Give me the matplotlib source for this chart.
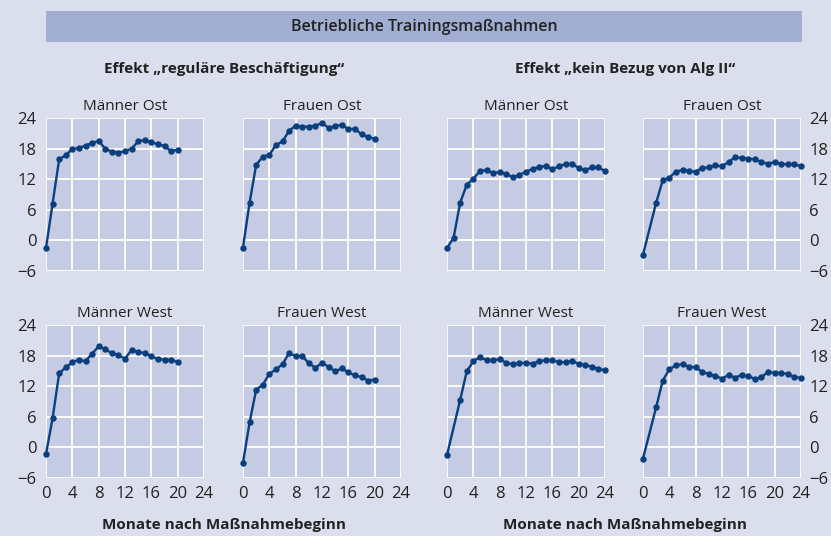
import matplotlib.pyplot as plt
from matplotlib.patches import Rectangle

plt.rcParams['font.family'] = ['Open Sans', 'DejaVu Sans']

# Monate nach Maßnahmebeginn
monate_20 = list(range(0, 21))
monate_24 = list(range(0, 25))
monate_24_ohne1 = [0] + list(range(2, 25))

# Effekt "reguläre Beschäftigung"
reg_maenner_ost = [-1.5, 7.2, 15.9, 16.7, 17.9, 18.1, 18.6, 19.1, 19.5, 18.0, 17.4,
                   17.2, 17.5, 18.0, 19.4, 19.7, 19.2, 18.9, 18.5, 17.5, 17.8]
reg_frauen_ost = [-1.4, 7.4, 14.8, 16.4, 16.8, 18.7, 19.4, 21.5, 22.5, 22.3, 22.3,
                  22.5, 23.0, 22.1, 22.4, 22.7, 21.8, 21.9, 20.8, 20.3, 19.9]
reg_maenner_west = [-1.3, 5.7, 14.5, 15.7, 16.7, 17.2, 16.9, 18.4, 19.8, 19.2, 18.5,
                    18.1, 17.4, 19.1, 18.7, 18.5, 17.9, 17.3, 17.2, 17.2, 16.7]
reg_frauen_west = [-3.0, 4.9, 11.3, 12.3, 14.4, 15.3, 16.3, 18.5, 17.9, 17.9, 16.5,
                   15.6, 16.6, 15.8, 14.9, 15.5, 14.7, 14.1, 13.8, 13.1, 13.3]

# Effekt "kein Bezug von Alg II"
alg_maenner_ost = [-1.5, 0.5, 7.4, 10.9, 12.1, 13.6, 13.8, 13.2, 13.4, 13.0, 12.4, 12.8,
                   13.5, 14.0, 14.4, 14.6, 14.0, 14.5, 15.0, 15.0, 14.2, 13.8, 14.3, 14.3, 13.6]
alg_frauen_ost = [-2.8, 7.4, 11.8, 12.3, 13.5, 13.8, 13.6, 13.5, 14.2, 14.3, 14.7, 14.5,
                  15.4, 16.3, 16.2, 16.0, 15.9, 15.4, 15.0, 15.4, 15.0, 14.9, 15.0, 14.5]
alg_maenner_west = [-1.5, 9.3, 14.9, 16.9, 17.7, 17.1, 17.1, 17.3, 16.6, 16.3, 16.5, 16.6,
                    16.4, 16.9, 17.1, 17.1, 16.7, 16.7, 16.9, 16.4, 16.2, 15.8, 15.4, 15.1]
alg_frauen_west = [-2.2, 7.9, 13.1, 15.3, 16.1, 16.3, 15.8, 15.7, 14.8, 14.4, 14.0, 13.5,
                   14.2, 13.7, 14.2, 14.0, 13.4, 13.8, 14.8, 14.6, 14.6, 14.4, 13.8, 13.6]

panels = [
    # (spalte, zeile, titel, x, y)
    (0, 0, 'Männer Ost', monate_20, reg_maenner_ost),
    (1, 0, 'Frauen Ost', monate_20, reg_frauen_ost),
    (2, 0, 'Männer Ost', monate_24, alg_maenner_ost),
    (3, 0, 'Frauen Ost', monate_24_ohne1, alg_frauen_ost),
    (0, 1, 'Männer West', monate_20, reg_maenner_west),
    (1, 1, 'Frauen West', monate_20, reg_frauen_west),
    (2, 1, 'Männer West', monate_24_ohne1, alg_maenner_west),
    (3, 1, 'Frauen West', monate_24_ohne1, alg_frauen_west),
]

W, H = 831, 536
BG = '#dbdeec'
AX_BG = '#c5cbe3'
BAND = '#a1aed1'
LINE = '#0a3f7e'
TXT = '#222222'

fig = plt.figure(figsize=(W / 100, H / 100), dpi=100, facecolor=BG)

links = [46, 243, 447, 643]
oben = [118, 325]
breite, hoehe = 158, 153

for col, row, titel, x, y in panels:
    ax = fig.add_axes([links[col] / W, 1 - (oben[row] + hoehe) / H, breite / W, hoehe / H])
    ax.set_facecolor(AX_BG)
    ax.plot(x, y, color=LINE, lw=1.7, marker='o', ms=3.6, clip_on=False, zorder=3)
    ax.set_xlim(0, 24)
    ax.set_ylim(-6, 24)
    ax.set_xticks(range(0, 25, 4))
    ax.set_yticks(range(-6, 25, 6))
    ax.grid(True, color='white', lw=1.3)
    ax.set_axisbelow(True)
    for s in ax.spines.values():
        s.set_visible(False)
    ax.tick_params(length=0, labelsize=12, colors=TXT, pad=6)
    ax.set_title(titel, fontsize=11, color=TXT, pad=6)
    if row == 0:
        ax.tick_params(labelbottom=False)
    if col == 0:
        ax.tick_params(axis='y', pad=7)
    elif col == 3:
        ax.yaxis.tick_right()
    else:
        ax.tick_params(labelleft=False)

# Kopfband
fig.patches.append(Rectangle((46 / W, 1 - 42 / H), (802 - 46) / W, 31 / H,
                             transform=fig.transFigure, facecolor=BAND, edgecolor='none'))
fig.text(424 / W, 1 - 27 / H, 'Betriebliche Trainingsmaßnahmen', ha='center', va='center',
         fontsize=11.5, color=TXT, fontweight='semibold')

fig.text(224 / W, 1 - 69 / H, 'Effekt „reguläre Beschäftigung“', ha='center', va='center',
         fontsize=11, color=TXT, fontweight='bold')
fig.text(625 / W, 1 - 69 / H, 'Effekt „kein Bezug von Alg II“', ha='center', va='center',
         fontsize=11, color=TXT, fontweight='bold')

fig.text(224 / W, 1 - 525 / H, 'Monate nach Maßnahmebeginn', ha='center', va='center',
         fontsize=11, color=TXT, fontweight='bold')
fig.text(625 / W, 1 - 525 / H, 'Monate nach Maßnahmebeginn', ha='center', va='center',
         fontsize=11, color=TXT, fontweight='bold')

fig.savefig('out.png', dpi=100, facecolor=BG)
